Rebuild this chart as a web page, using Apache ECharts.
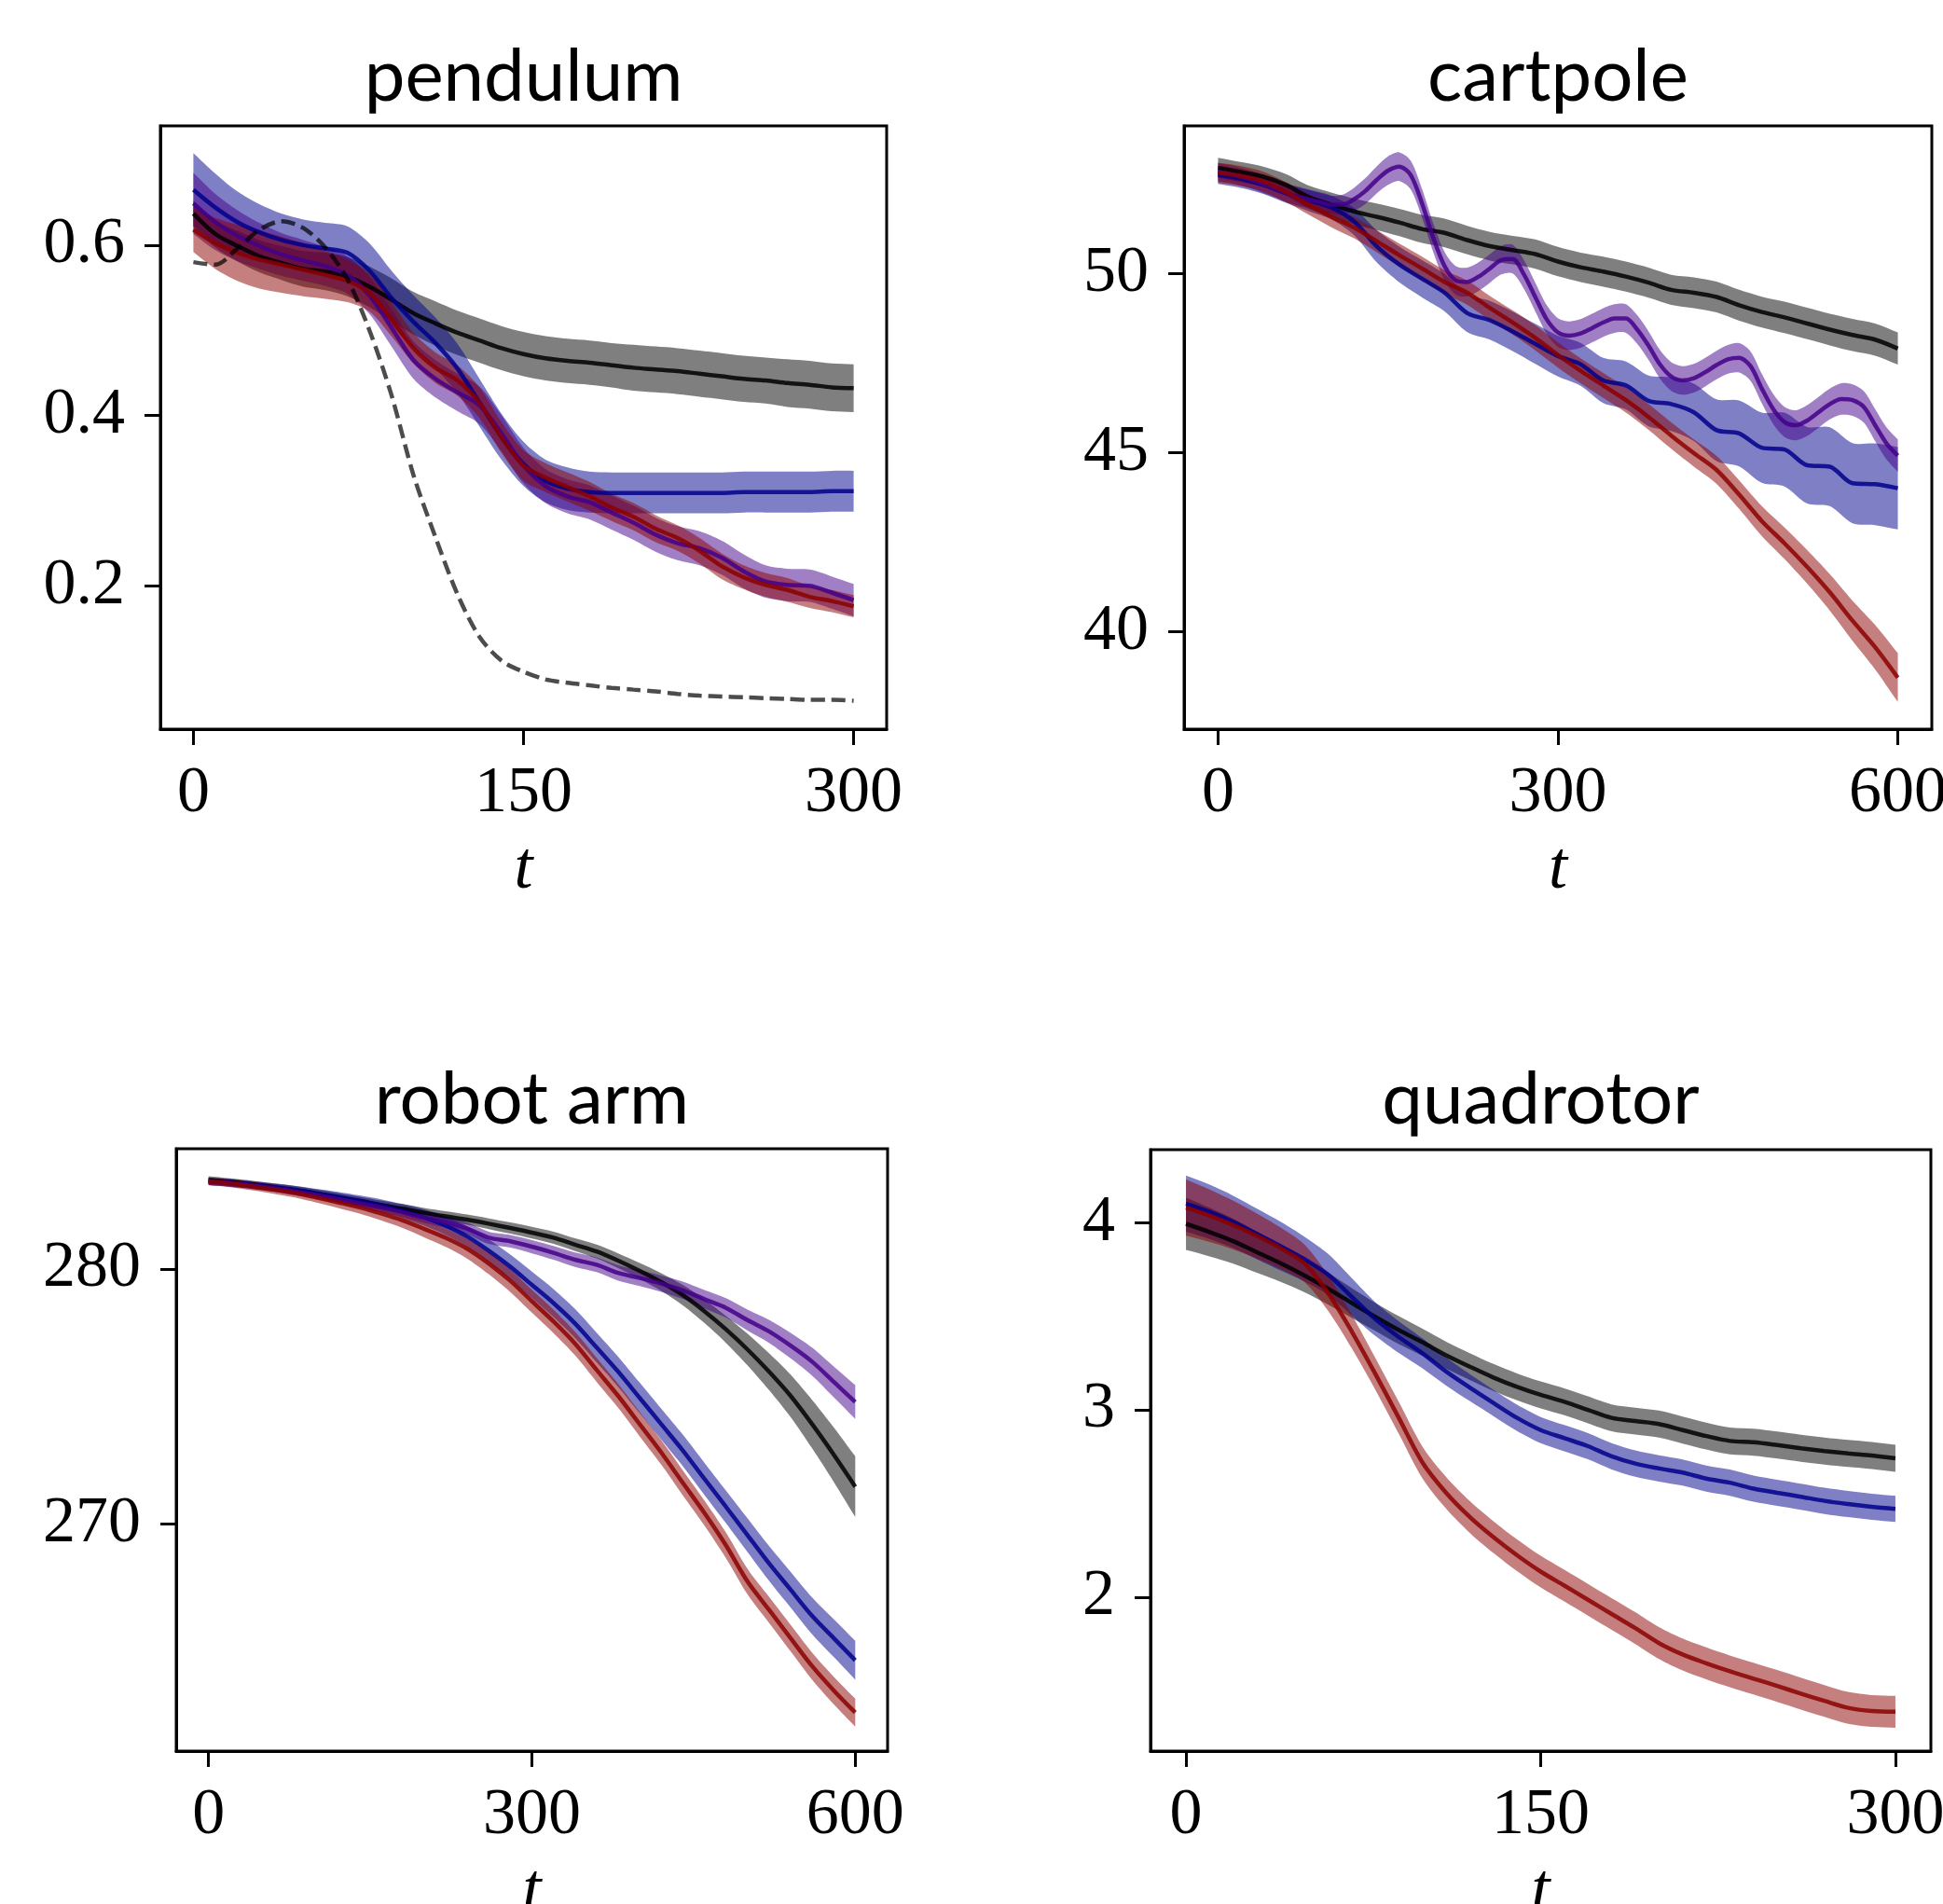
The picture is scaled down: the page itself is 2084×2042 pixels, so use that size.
<!DOCTYPE html>
<html><head><meta charset="utf-8">
<script src="https://cdn.jsdelivr.net/npm/echarts@6/dist/echarts.min.js"></script>
<style>html,body{margin:0;padding:0;background:#fff}#chart{width:2084px;height:2042px}</style>
</head><body><div id="chart"></div>
<script>
// ---------------- DATA ----------------
// pendulum (t step 10)
const pendT = [0,10,20,30,40,50,60,70,80,90,100,110,120,130,140,150,160,170,180,190,200,210,220,230,240,250,260,270,280,290,300];
const pendBlack = [0.637,0.613,0.599,0.587,0.579,0.572,0.569,0.563,0.551,0.536,0.520,0.508,0.497,0.488,0.479,0.472,0.467,0.464,0.462,0.459,0.456,0.454,0.452,0.449,0.446,0.443,0.441,0.438,0.436,0.433,0.432];
const pendBlackSd = [0.015,0.016,0.018,0.019,0.020,0.021,0.022,0.023,0.024,0.025,0.025,0.026,0.026,0.026,0.026,0.026,0.026,0.026,0.026,0.026,0.027,0.027,0.027,0.027,0.027,0.027,0.027,0.028,0.028,0.028,0.028];
const pendBlue = [0.665,0.644,0.627,0.615,0.606,0.600,0.596,0.591,0.570,0.538,0.510,0.485,0.455,0.415,0.375,0.343,0.323,0.314,0.310,0.309,0.309,0.309,0.309,0.309,0.309,0.310,0.310,0.310,0.310,0.311,0.311];
const pendBlueSd = [0.043,0.040,0.036,0.033,0.031,0.030,0.030,0.031,0.032,0.032,0.031,0.030,0.029,0.028,0.027,0.026,0.025,0.025,0.024,0.024,0.024,0.024,0.024,0.024,0.024,0.024,0.024,0.024,0.024,0.024,0.024];
const pendPurple = [0.649,0.627,0.611,0.599,0.589,0.582,0.575,0.565,0.541,0.503,0.465,0.443,0.427,0.412,0.379,0.341,0.317,0.305,0.298,0.286,0.274,0.260,0.250,0.244,0.233,0.217,0.205,0.201,0.200,0.192,0.183];
const pendPurpleSd = [0.036,0.033,0.030,0.027,0.025,0.024,0.023,0.022,0.022,0.022,0.022,0.022,0.022,0.022,0.021,0.021,0.020,0.020,0.020,0.020,0.020,0.020,0.020,0.020,0.020,0.020,0.019,0.019,0.019,0.019,0.019];
const pendRed = [0.618,0.602,0.591,0.583,0.577,0.571,0.565,0.558,0.544,0.513,0.479,0.456,0.441,0.415,0.374,0.341,0.327,0.316,0.305,0.292,0.281,0.267,0.256,0.241,0.223,0.210,0.201,0.195,0.187,0.182,0.176];
const pendRedSd = [0.026,0.030,0.033,0.034,0.033,0.031,0.028,0.025,0.022,0.020,0.018,0.018,0.018,0.018,0.018,0.018,0.017,0.017,0.017,0.016,0.016,0.016,0.015,0.015,0.015,0.014,0.014,0.014,0.013,0.013,0.013];
const pendDashed = [0.580,0.577,0.596,0.618,0.628,0.620,0.597,0.560,0.500,0.424,0.330,0.257,0.190,0.140,0.112,0.099,0.090,0.086,0.083,0.080,0.078,0.076,0.073,0.071,0.070,0.069,0.068,0.067,0.066,0.066,0.065];
const pendXTicks = [0,150,300];
const pendYTicks = [0.2,0.4,0.6];

// cartpole (t step 20; purple step 10)
const cartT = [0,20,40,60,80,100,120,140,160,180,200,220,240,260,280,300,320,340,360,380,400,420,440,460,480,500,520,540,560,580,600];
const cartBlack = [52.96,52.84,52.71,52.48,52.14,51.93,51.74,51.59,51.43,51.25,51.14,50.94,50.77,50.66,50.55,50.34,50.18,50.06,49.92,49.75,49.55,49.47,49.35,49.12,48.93,48.78,48.61,48.44,48.29,48.16,47.91];
const cartBlackSd = [0.28,0.28,0.28,0.30,0.32,0.34,0.36,0.37,0.38,0.39,0.40,0.40,0.40,0.40,0.41,0.41,0.41,0.42,0.42,0.42,0.42,0.43,0.43,0.43,0.43,0.44,0.44,0.44,0.45,0.45,0.45];
const cartBlue = [52.76,52.65,52.48,52.25,52.05,51.85,51.46,50.77,50.26,49.86,49.47,48.90,48.70,48.39,48.04,47.70,47.47,47.02,46.88,46.45,46.36,46.13,45.63,45.54,45.14,45.09,44.65,44.61,44.15,44.12,44.01];
const cartBlueSd = [0.25,0.25,0.25,0.27,0.30,0.33,0.38,0.45,0.50,0.52,0.52,0.53,0.54,0.55,0.56,0.57,0.60,0.63,0.67,0.71,0.75,0.80,0.86,0.92,0.98,1.03,1.07,1.10,1.12,1.14,1.15];
const cartRed = [52.82,52.73,52.57,52.28,51.93,51.59,51.29,50.91,50.52,50.15,49.77,49.47,49.04,48.64,48.21,47.73,47.29,46.88,46.47,46.00,45.48,44.99,44.52,43.83,43.09,42.47,41.81,41.10,40.31,39.57,38.72];
const cartRedSd = [0.28,0.28,0.28,0.28,0.28,0.29,0.30,0.31,0.32,0.33,0.33,0.34,0.34,0.34,0.35,0.35,0.35,0.35,0.35,0.36,0.37,0.38,0.39,0.40,0.42,0.44,0.47,0.51,0.56,0.62,0.68];
const cartPurpleT = [0,10,20,30,40,50,60,70,80,90,100,110,120,130,140,150,160,170,180,190,200,210,220,230,240,250,260,270,280,290,300,310,320,330,340,350,360,370,380,390,400,410,420,430,440,450,460,470,480,490,500,510,520,530,540,550,560,570,580,590,600];
const cartPurple = [52.84,52.79,52.71,52.62,52.50,52.39,52.25,52.16,52.08,52.00,51.93,51.93,52.08,52.31,52.62,52.88,52.99,52.76,51.97,51.00,50.21,49.81,49.77,49.92,50.15,50.38,50.41,49.98,49.35,48.73,48.36,48.27,48.33,48.48,48.64,48.75,48.75,48.44,47.99,47.47,47.13,47.02,47.08,47.25,47.45,47.61,47.65,47.42,46.79,46.22,45.86,45.77,45.90,46.13,46.36,46.50,46.47,46.28,45.77,45.26,44.92];
const cartPurpleSd = [0.25,0.25,0.25,0.25,0.25,0.25,0.25,0.25,0.25,0.25,0.25,0.28,0.32,0.36,0.38,0.40,0.40,0.40,0.40,0.40,0.40,0.40,0.40,0.40,0.40,0.40,0.40,0.40,0.40,0.40,0.40,0.40,0.40,0.40,0.40,0.40,0.40,0.40,0.40,0.40,0.40,0.40,0.40,0.40,0.40,0.40,0.41,0.41,0.41,0.42,0.42,0.42,0.43,0.43,0.43,0.44,0.44,0.44,0.45,0.45,0.45];
const cartXTicks = [0,300,600];
const cartYTicks = [40,45,50];

// robot arm (t step 20)
const robotT = [0,20,40,60,80,100,120,140,160,180,200,220,240,260,280,300,320,340,360,380,400,420,440,460,480,500,520,540,560,580,600];
const robotBlack = [283.48,283.40,283.31,283.20,283.09,282.96,282.80,282.66,282.50,282.36,282.20,282.06,281.93,281.77,281.60,281.42,281.22,280.95,280.68,280.32,279.92,279.48,278.97,278.34,277.63,276.84,275.97,275.02,273.91,272.72,271.46];
const robotBlackSd = [0.15,0.15,0.15,0.15,0.16,0.16,0.17,0.17,0.18,0.18,0.19,0.20,0.20,0.21,0.22,0.23,0.24,0.25,0.27,0.29,0.31,0.35,0.40,0.46,0.53,0.62,0.72,0.83,0.95,1.07,1.19];
const robotBlue = [283.43,283.37,283.29,283.20,283.09,282.96,282.82,282.66,282.48,282.26,282.01,281.69,281.27,280.71,280.08,279.37,278.66,277.86,276.92,275.97,274.94,273.91,272.88,271.77,270.67,269.56,268.45,267.42,266.39,265.52,264.65];
const robotBlueSd = [0.15,0.15,0.15,0.16,0.17,0.18,0.20,0.22,0.25,0.28,0.32,0.36,0.40,0.44,0.48,0.52,0.55,0.57,0.58,0.59,0.60,0.61,0.62,0.63,0.64,0.66,0.68,0.70,0.72,0.74,0.76];
const robotPurple = [283.43,283.37,283.28,283.17,283.04,282.90,282.74,282.58,282.41,282.22,282.01,281.82,281.58,281.22,281.08,280.87,280.63,280.36,280.16,279.84,279.64,279.42,279.16,278.81,278.47,277.99,277.55,276.99,276.36,275.57,274.78];
const robotPurpleSd = [0.15,0.15,0.15,0.15,0.16,0.16,0.17,0.18,0.19,0.20,0.21,0.22,0.23,0.24,0.25,0.26,0.27,0.28,0.29,0.30,0.31,0.32,0.34,0.36,0.38,0.41,0.45,0.50,0.55,0.60,0.66];
const robotRed = [283.43,283.35,283.24,283.12,282.98,282.80,282.61,282.41,282.17,281.90,281.57,281.22,280.79,280.21,279.53,278.73,277.94,277.07,276.04,275.02,273.91,272.80,271.61,270.43,269.16,267.74,266.63,265.52,264.42,263.47,262.60];
const robotRedSd = [0.15,0.15,0.16,0.17,0.18,0.20,0.22,0.24,0.27,0.30,0.33,0.36,0.39,0.42,0.44,0.45,0.46,0.46,0.47,0.47,0.48,0.48,0.49,0.49,0.50,0.50,0.51,0.52,0.53,0.54,0.55];
const robotXTicks = [0,300,600];
const robotYTicks = [270,280];

// quadrotor (t step 10)
const quadT = [0,10,20,30,40,50,60,70,80,90,100,110,120,130,140,150,160,170,180,190,200,210,220,230,240,250,260,270,280,290,300];
const quadBlack = [3.994,3.950,3.901,3.842,3.784,3.719,3.648,3.572,3.497,3.426,3.361,3.292,3.231,3.173,3.123,3.080,3.043,3.000,2.957,2.940,2.924,2.892,2.860,2.834,2.827,2.812,2.795,2.780,2.767,2.756,2.741];
const quadBlackSd = [0.140,0.130,0.120,0.110,0.100,0.090,0.085,0.080,0.075,0.075,0.072,0.072,0.072,0.072,0.072,0.072,0.072,0.072,0.072,0.072,0.072,0.072,0.072,0.072,0.072,0.072,0.072,0.072,0.072,0.072,0.072];
const quadBlue = [4.102,4.058,4.004,3.940,3.875,3.806,3.724,3.605,3.486,3.389,3.302,3.205,3.119,3.037,2.957,2.892,2.849,2.806,2.752,2.713,2.687,2.665,2.633,2.611,2.579,2.557,2.536,2.514,2.497,2.482,2.471];
const quadBlueSd = [0.150,0.145,0.140,0.135,0.130,0.120,0.110,0.100,0.090,0.085,0.080,0.075,0.072,0.070,0.070,0.070,0.070,0.070,0.070,0.070,0.070,0.070,0.070,0.070,0.070,0.070,0.070,0.070,0.070,0.070,0.070];
const quadRed = [4.080,4.037,3.987,3.929,3.864,3.784,3.626,3.421,3.194,2.957,2.719,2.557,2.428,2.320,2.223,2.136,2.061,1.985,1.909,1.834,1.754,1.693,1.646,1.603,1.564,1.525,1.484,1.445,1.408,1.391,1.387];
const quadRedSd = [0.150,0.140,0.130,0.120,0.110,0.100,0.095,0.090,0.085,0.085,0.085,0.085,0.085,0.085,0.085,0.085,0.085,0.085,0.085,0.085,0.085,0.085,0.085,0.085,0.085,0.085,0.085,0.085,0.085,0.085,0.085];
const quadXTicks = [0,150,300];
const quadYTicks = [2,3,4];

// ---------------- STYLE / LAYOUT ----------------
const SMOOTH = 0.3;
const COL = {black:[0,0,0], blue:[0,0,139], purple:[68,0,138], red:[139,0,0]};
const rgba = (c,a) => 'rgba(' + c[0] + ',' + c[1] + ',' + c[2] + ',' + a + ')';
const TICK_FONT = 'Liberation Serif';
const LINE_W = 4.5;

const panels = [
  {title:'pendulum', grid:{left:172, top:135, width:779, height:647}, titleTop:44,
   x:[-15,315], y:[0.0316,0.740], xTicks:pendXTicks, yTicks:pendYTicks, yDigits:1,
   methods:[['black',pendT,pendBlack,pendBlackSd],['blue',pendT,pendBlue,pendBlueSd],['purple',pendT,pendPurple,pendPurpleSd],['red',pendT,pendRed,pendRedSd]],
   dashed:[pendT,pendDashed]},
  {title:'cartpole', grid:{left:1270, top:135, width:802, height:647}, titleTop:44,
   x:[-30,630], y:[37.28,54.13], xTicks:cartXTicks, yTicks:cartYTicks, yDigits:0,
   methods:[['black',cartT,cartBlack,cartBlackSd],['blue',cartT,cartBlue,cartBlueSd],['purple',cartPurpleT,cartPurple,cartPurpleSd],['red',cartT,cartRed,cartRedSd]]},
  {title:'robot arm', grid:{left:189, top:1232, width:763, height:646}, titleTop:1141,
   x:[-30,630], y:[261.09,284.71], xTicks:robotXTicks, yTicks:robotYTicks, yDigits:0,
   methods:[['black',robotT,robotBlack,robotBlackSd],['blue',robotT,robotBlue,robotBlueSd],['purple',robotT,robotPurple,robotPurpleSd],['red',robotT,robotRed,robotRedSd]]},
  {title:'quadrotor', grid:{left:1234, top:1233, width:837, height:645}, titleTop:1141,
   x:[-15,315], y:[1.177,4.39], xTicks:quadXTicks, yTicks:quadYTicks, yDigits:0,
   methods:[['black',quadT,quadBlack,quadBlackSd],['blue',quadT,quadBlue,quadBlueSd],['red',quadT,quadRed,quadRedSd]]}
];

const grids = [], xAxes = [], yAxes = [], titles = [], series = [];

panels.forEach((p, g) => {
  grids.push({left:p.grid.left, top:p.grid.top, width:p.grid.width, height:p.grid.height,
              show:true, borderColor:'#000', borderWidth:3, backgroundColor:'transparent',
              containLabel:false, outerBoundsMode:'none'});
  titles.push({text:p.title, left:p.grid.left + p.grid.width/2, top:p.titleTop, textAlign:'center', padding:0,
               textStyle:{fontFamily:'Lato', fontSize:78, fontWeight:'normal', color:'#000'}});
  xAxes.push({gridIndex:g, type:'value', min:p.x[0], max:p.x[1],
    axisLine:{show:true, onZero:false, lineStyle:{color:'#000', width:3}},
    axisTick:{show:true, inside:false, length:17, lineStyle:{color:'#000', width:3}, customValues:p.xTicks},
    axisLabel:{show:true, customValues:p.xTicks, margin:35, fontFamily:TICK_FONT, fontSize:70, color:'#000'},
    splitLine:{show:false},
    name:'t', nameLocation:'middle', nameGap:115,
    nameTextStyle:{fontFamily:TICK_FONT, fontStyle:'italic', fontSize:72, color:'#000'}});
  const dig = p.yDigits;
  yAxes.push({gridIndex:g, type:'value', min:p.y[0], max:p.y[1],
    axisLine:{show:true, onZero:false, lineStyle:{color:'#000', width:3}},
    axisTick:{show:true, inside:false, length:17, lineStyle:{color:'#000', width:3}, customValues:p.yTicks},
    axisLabel:{show:true, customValues:p.yTicks, margin:38, fontFamily:TICK_FONT, fontSize:70, color:'#000',
               formatter:(v) => Number(v).toFixed(dig)},
    splitLine:{show:false}});

  p.methods.forEach(([key, t, mean, sd]) => {
    series.push({type:'custom', xAxisIndex:g, yAxisIndex:g, silent:true, clip:true,
      data:[[t[0], mean[0]]],
      renderItem:(params, api) => {
        const up = t.map((x, i) => api.coord([x, mean[i] + sd[i]]));
        const lo = t.map((x, i) => api.coord([x, mean[i] - sd[i]])).reverse();
        const pts = [up[0]].concat(up, [up[up.length-1]], [lo[0]], lo, [lo[lo.length-1]]);
        return {type:'polygon', shape:{points:pts, smooth:SMOOTH}, style:{fill:rgba(COL[key], 0.5), stroke:null}};
      }});
    series.push({type:'line', xAxisIndex:g, yAxisIndex:g, data:t.map((x, i) => [x, mean[i]]),
      symbol:'none', smooth:SMOOTH, silent:true, clip:true,
      lineStyle:{color:rgba(COL[key], 0.85), width:LINE_W}});
  });
  if (p.dashed) {
    const [t, v] = p.dashed;
    series.push({type:'line', xAxisIndex:g, yAxisIndex:g, data:t.map((x, i) => [x, v[i]]),
      symbol:'none', smooth:SMOOTH, silent:true, clip:true,
      lineStyle:{color:'rgba(0,0,0,0.7)', width:LINE_W, type:[15,7]}});
  }
});

const chart = echarts.init(document.getElementById('chart'), null, {renderer:'canvas'});
chart.setOption({
  backgroundColor:'#fff', animation:false,
  title:titles, grid:grids, xAxis:xAxes, yAxis:yAxes, series:series
});
</script></body></html>
